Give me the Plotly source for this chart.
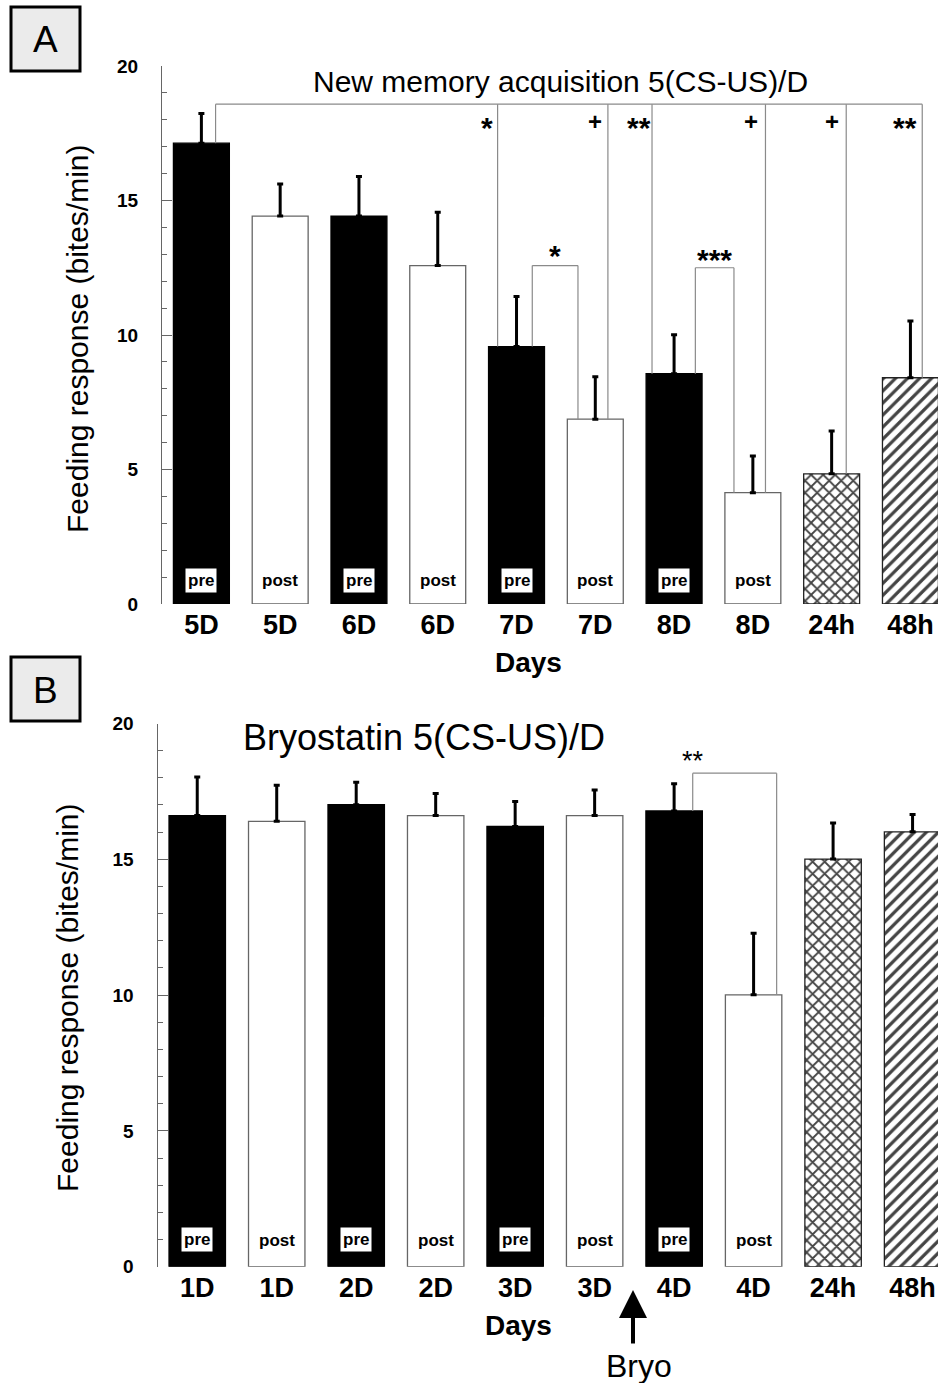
import plotly.graph_objects as go

W, H = 938, 1383
FONT = "Liberation Sans, Arial, sans-serif"

# ---------------- data ----------------
a_labels = ["5D", "5D", "6D", "6D", "7D", "7D", "8D", "8D", "24h", "48h"]
a_values = [17.13, 14.42, 14.42, 12.58, 9.57, 6.87, 8.56, 4.14, 4.84, 8.41]
a_errors = [1.10, 1.19, 1.47, 1.98, 1.86, 1.58, 1.45, 1.36, 1.59, 2.11]

b_labels = ["1D", "1D", "2D", "2D", "3D", "3D", "4D", "4D", "24h", "48h"]
b_values = [16.61, 16.40, 17.01, 16.61, 16.21, 16.61, 16.78, 10.01, 15.01, 16.01]
b_errors = [1.42, 1.33, 0.83, 0.81, 0.92, 0.94, 1.00, 2.27, 1.33, 0.64]

phase = ["pre", "post", "pre", "post", "pre", "post", "pre", "post", "", ""]
fills = ["black", "white", "black", "white", "black", "white", "black", "white", "cross", "diag"]

# significance marks (panel A): (bar index, offset of bracket line from bar centre)
a_main_bracket_top = 18.58
a_main_legs = [(0, 0.18), (4, -0.24), (5, 0.16), (6, -0.28), (7, 0.16), (8, 0.185), (9, 0.15)]
a_main_marks = [("*", 3.62), ("+", 4.99), ("**", 5.55), ("+", 6.97), ("+", 8.0), ("**", 8.93)]
a_pair_brackets = [((4, 0.20), (5, -0.22), 12.58, "*", 0.39), ((6, 0.27), (7, -0.24), 12.50, "***", 0.29)]
b_pair_brackets = [((6, 0.234), (7, 0.29), 18.17, "**", 0.45)]

title_a = "New memory acquisition 5(CS-US)/D"
title_b = "Bryostatin 5(CS-US)/D"
ytitle = "Feeding response (bites/min)"


def px(x):
    return x / W


def py(y):
    return 1 - y / H


def bar_trace(values, errors, xa, ya):
    colors = ["black" if f == "black" else "white" for f in fills]
    shp = {"cross": "x", "diag": "/"}
    pat = [shp.get(f, "") for f in fills]
    lines = ["black" if f == "black" else ("#666666" if f == "white" else "#222222") for f in fills]
    return go.Bar(
        x=list(range(len(values))), y=values, width=0.71,
        xaxis=xa, yaxis=ya,
        marker=dict(color=colors, line=dict(color=lines, width=1.3),
                    pattern=dict(shape=pat, fgcolor="black", fgopacity=1, size=8.5,
                                 solidity=0.38, fillmode="overlay")),
        error_y=dict(type="data", array=errors, arrayminus=[0] * len(errors), symmetric=False,
                     color="black", thickness=3, width=3),
        showlegend=False, hoverinfo="skip",
    )


fig = go.Figure()
fig.add_trace(bar_trace(a_values, a_errors, "x", "y"))
fig.add_trace(bar_trace(b_values, b_errors, "x2", "y2"))

shapes = []
annotations = []
GRAY = "#8a8a8a"


def ann(**kw):
    kw.setdefault("xanchor", "center")
    kw.setdefault("yanchor", "middle")
    kw.setdefault("showarrow", False)
    annotations.append(kw)


def vline(xref, yref, x, y0, y1):
    shapes.append(dict(type="line", xref=xref, yref=yref, x0=x, x1=x, y0=y0, y1=y1,
                       line=dict(color=GRAY, width=1.2)))


def hline(xref, yref, x0, x1, y):
    shapes.append(dict(type="line", xref=xref, yref=yref, x0=x0, x1=x1, y0=y, y1=y,
                       line=dict(color=GRAY, width=1.2)))


# main bracket A
legs = [i + o for i, o in a_main_legs]
hline("x", "y", min(legs), max(legs), a_main_bracket_top)
for i, o in a_main_legs:
    vline("x", "y", i + o, a_values[i], a_main_bracket_top)
for txt, xpos in a_main_marks:
    star = "*" in txt
    ann(xref="x", yref="y", x=xpos, y=17.72 if star else 17.92, text="<b>%s</b>" % txt,
        font=dict(family=FONT, size=30 if star else 24, color="black"))


def pair(xref, yref, vals, left, right, top, txt, off, bold, size):
    (i1, o1), (i2, o2) = left, right
    hline(xref, yref, i1 + o1, i2 + o2, top)
    vline(xref, yref, i1 + o1, vals[i1], top)
    vline(xref, yref, i2 + o2, vals[i2], top)
    t = "<b>%s</b>" % txt if bold else txt
    xt = (i1 + o1 + i2 + o2) / 2 if bold else i1 + o1
    ann(xref=xref, yref=yref, x=xt, y=top + off, text=t,
        font=dict(family=FONT, size=size, color="black"))


for left, right, top, txt, off in a_pair_brackets:
    pair("x", "y", a_values, left, right, top, txt, off, True, 30)
for left, right, top, txt, off in b_pair_brackets:
    pair("x2", "y2", b_values, left, right, top, txt, off, False, 27)

# pre / post labels inside bars
for xref, yref, ypre, ypost in [("x", "y", 0.87, 0.86), ("x2", "y2", 0.99, 0.98)]:
    for i, p in enumerate(phase):
        if not p:
            continue
        if p == "pre":
            ann(xref=xref, yref=yref, x=i, y=ypre, text="<b>pre</b>", bgcolor="white", borderpad=2,
                font=dict(family=FONT, size=17, color="black"))
        else:
            ann(xref=xref, yref=yref, x=i, y=ypost, text="<b>post</b>",
                font=dict(family=FONT, size=17, color="black"))

# titles
ann(xref="paper", yref="paper", x=px(560), y=py(82), text=title_a,
    font=dict(family=FONT, size=30, color="black"))
ann(xref="paper", yref="paper", x=px(424), y=py(737), text=title_b,
    font=dict(family=FONT, size=36, color="black"))
# y titles
ann(xref="paper", yref="paper", x=px(78), y=py(339), text=ytitle, textangle=-90,
    font=dict(family=FONT, size=30, color="black"))
ann(xref="paper", yref="paper", x=px(67), y=py(998), text=ytitle, textangle=-90,
    font=dict(family=FONT, size=30, color="black"))
# "Days"
ann(xref="paper", yref="paper", x=px(528), y=py(662), text="<b>Days</b>",
    font=dict(family=FONT, size=28, color="black"))
ann(xref="paper", yref="paper", x=px(518), y=py(1325), text="<b>Days</b>",
    font=dict(family=FONT, size=28, color="black"))
# Bryo arrow
annotations.append(dict(xref="paper", yref="paper", x=px(633), y=py(1290), ax=0, ay=55,
                        text="", showarrow=True, arrowhead=2, arrowsize=1.4, arrowwidth=4,
                        arrowcolor="black"))
ann(xref="paper", yref="paper", x=px(639), y=py(1366), text="Bryo",
    font=dict(family=FONT, size=32, color="black"))

# panel labels
for lab, (y0, y1) in [("A", (7, 71)), ("B", (657, 721))]:
    shapes.append(dict(type="rect", xref="paper", yref="paper", x0=px(11), x1=px(80),
                       y0=py(y1), y1=py(y0), fillcolor="#ebebeb",
                       line=dict(color="black", width=3), layer="below"))
    ann(xref="paper", yref="paper", x=px(45.5), y=py((y0 + y1) / 2 + 1), text=lab,
        font=dict(family=FONT, size=37, color="black"))

yaxis_common = dict(
    range=[0, 20], tickvals=[0, 5, 10, 15, 20], showline=True, linecolor="#666666", linewidth=1,
    ticks="inside", ticklen=10, tickwidth=1, tickcolor="#666666",
    minor=dict(dtick=1, ticks="inside", ticklen=5, tickcolor="#666666", tickwidth=1),
    showgrid=False, zeroline=False, ticklabelstandoff=19, automargin=False,
    tickfont=dict(family=FONT, size=19, color="black", weight="bold"),
)
xaxis_common = dict(
    tickvals=list(range(10)), ticks="", showline=False, showgrid=False, zeroline=False,
    automargin=False,
    tickfont=dict(family=FONT, size=27, color="black", weight="bold"), ticklabelstandoff=2,
)

fig.update_layout(
    width=W, height=H, margin=dict(l=0, r=0, t=0, b=0, autoexpand=False),
    paper_bgcolor="white", plot_bgcolor="white", bargap=0.29,
    xaxis=dict(domain=[px(162), 1], range=[-0.5, 9.35], anchor="y", ticktext=a_labels, **xaxis_common),
    yaxis=dict(domain=[py(604), py(66)], anchor="x", **yaxis_common),
    xaxis2=dict(domain=[px(157.5), 1], range=[-0.5, 9.32], anchor="y2", ticktext=b_labels, **xaxis_common),
    yaxis2=dict(domain=[py(1266.7), py(723.5)], anchor="x2", **yaxis_common),
    shapes=shapes, annotations=annotations,
)

fig.write_html("out.html")
